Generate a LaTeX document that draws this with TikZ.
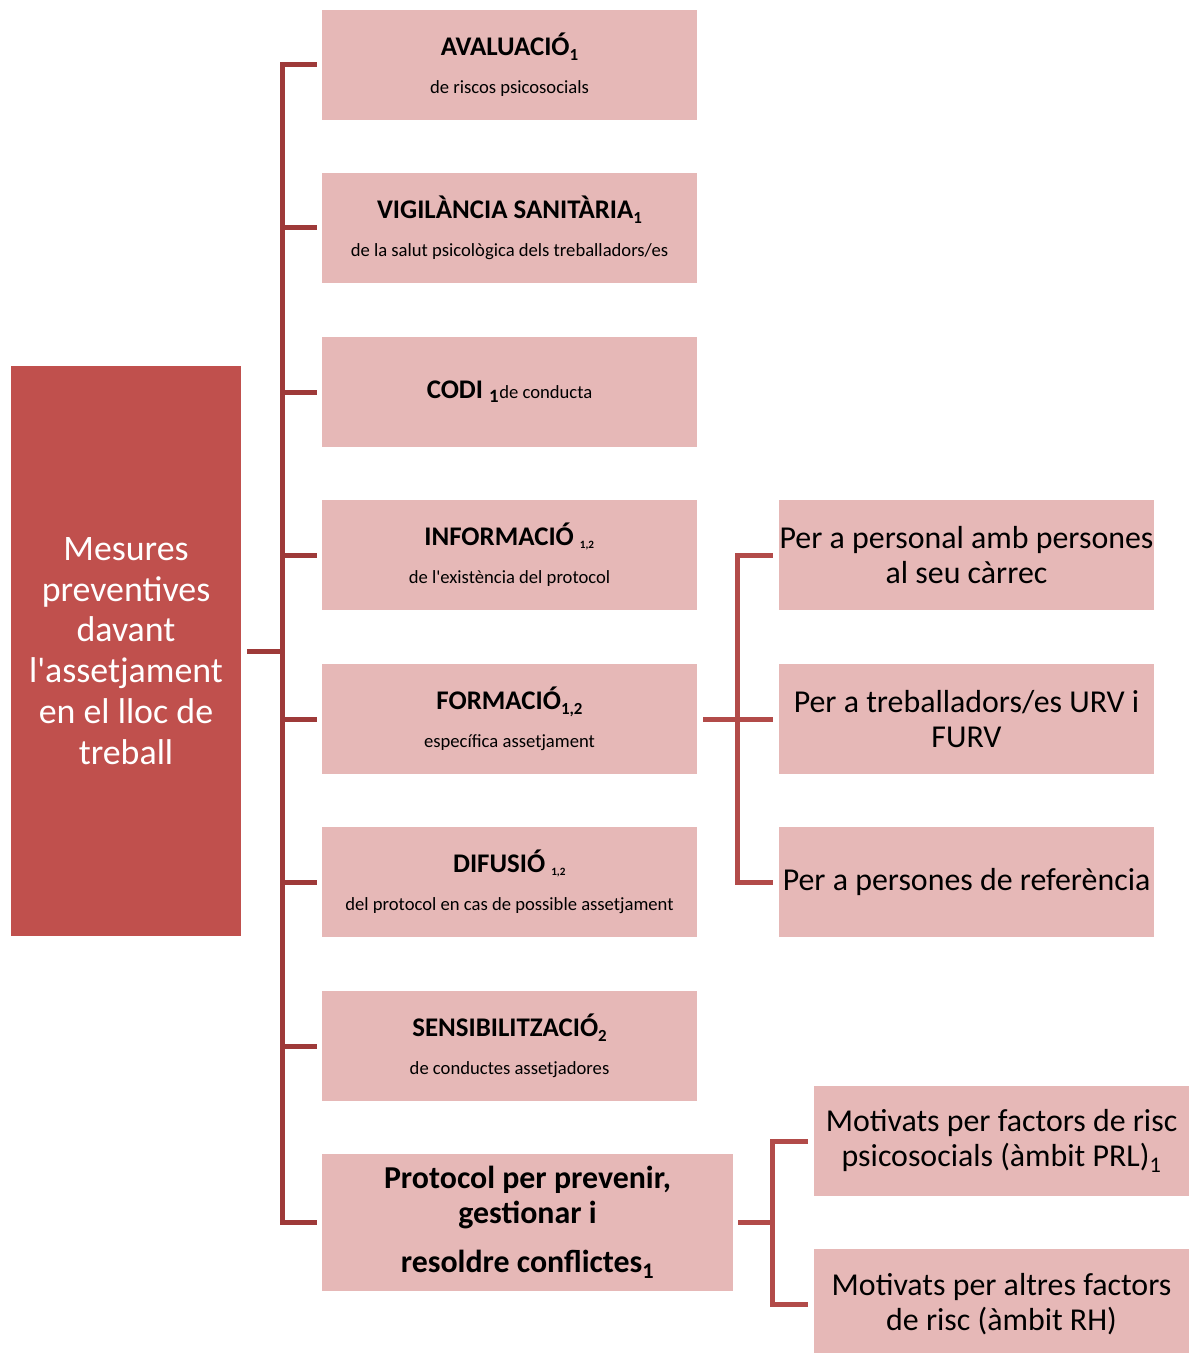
\documentclass[tikz,border=0pt]{standalone}
\usepackage{fontspec}
\setmainfont{Carlito}
\definecolor{boxfill}{RGB}{230,184,183}
\definecolor{mainfill}{RGB}{192,80,77}
\definecolor{trunkcol}{RGB}{158,58,57}
\definecolor{brackcol}{RGB}{178,75,73}
\newcommand{\ap}{\textquotesingle}
\newcommand{\ttlfont}{\fontsize{27}{30}\selectfont\bfseries}
\newcommand{\lowsub}[1]{\raisebox{-0.18em}{\fontsize{17}{18}\selectfont #1}}
\begin{document}
\begin{tikzpicture}[x=1bp,y=-1bp,
  mbox/.style={rectangle,fill=boxfill,minimum width=375bp,minimum height=110bp,inner sep=0pt,align=center,text=black},
  sbox/.style={mbox,font=\fontsize{18.7}{22}\selectfont},
  rbox/.style={mbox,font=\fontsize{32}{35}\selectfont},
  conn/.style={draw=trunkcol,line width=5bp,line join=miter},
  bconn/.style={draw=brackcol,line width=5bp,line join=miter},
]
\useasboundingbox (0,0) rectangle (1195,1353);
\fill[white] (0,0) rectangle (1195,1353);

% main box
\node[rectangle,fill=mainfill,minimum width=230bp,minimum height=570bp,inner sep=0pt,align=center,text=white,
  font=\fontsize{36}{41}\selectfont] (main) at (126,651)
  {Mesures\\preventives\\davant\\l\ap assetjament\\en el lloc de\\treball};

% middle boxes
\node[sbox] (b1) at (509.5,65)
  {{\ttlfont AVALUACIÓ\lowsub{1}}\\[16bp]de riscos psicosocials};
\node[sbox] (b2) at (509.5,228)
  {{\ttlfont VIGILÀNCIA SANITÀRIA\lowsub{1}}\\[16bp]de la salut psicològica dels treballadors/es};
\node[sbox] (b3) at (509.5,392)
  {{\ttlfont CODI \textsubscript{1}}de conducta};
\node[sbox] (b4) at (509.5,555)
  {{\ttlfont INFORMACIÓ {\fontsize{16}{18}\selectfont\textsubscript{1,2}}}\\[16bp]de l\ap existència del protocol};
\node[sbox] (b5) at (509.5,719)
  {{\ttlfont FORMACIÓ\lowsub{1,2}}\\[16bp]específica assetjament};
\node[sbox] (b6) at (509.5,882)
  {{\ttlfont DIFUSIÓ {\fontsize{16}{18}\selectfont\textsubscript{1,2}}}\\[16bp]del protocol en cas de possible assetjament};
\node[sbox] (b7) at (509.5,1046)
  {{\ttlfont SENSIBILITZACIÓ\lowsub{2}}\\[16bp]de conductes assetjadores};
\node[mbox,minimum width=411bp,minimum height=137bp,font=\fontsize{32}{35}\selectfont\bfseries] (b8) at (527.5,1222.5)
  {Protocol per prevenir,\\gestionar i\\[14bp]resoldre conflictes\textsubscript{1}};

% right boxes
\node[rbox] (r1) at (966.5,555) {Per a personal amb persones\\al seu càrrec};
\node[rbox] (r2) at (966.5,719) {Per a treballadors/es URV i\\FURV};
\node[rbox] (r3) at (966.5,882) {Per a persones de referència};
\node[rbox] (p1) at (1001.5,1141) {Motivats per factors de risc\\psicosocials (àmbit PRL)\textsubscript{1}};
\node[rbox] (p2) at (1001.5,1304) {Motivats per altres factors\\de risc (àmbit RH)};

% trunk
\draw[conn] ([xshift=6bp]main.east) -- ++(36,0);
\draw[conn] ([xshift=-5bp]b1.west) -- ++(-34,0) |- ([xshift=-5bp]b8.west);
\foreach \b in {b2,b3,b4,b5,b6,b7}
  \draw[conn] ([xshift=-5bp]\b.west) -- ++(-34,0);

% formacio bracket
\draw[bconn] ([xshift=6bp]b5.east) -- ++(35,0);
\draw[bconn] ([xshift=-6bp]r1.west) -- ++(-35,0) |- ([xshift=-6bp]r3.west);
\draw[bconn] ([xshift=-6bp]r2.west) -- ++(-35,0);

% protocol bracket
\draw[bconn] ([xshift=5bp]b8.east) -- ++(35,0);
\draw[bconn] ([xshift=-6bp]p1.west) -- ++(-35,0) |- ([xshift=-6bp]p2.west);
\end{tikzpicture}
\end{document}
